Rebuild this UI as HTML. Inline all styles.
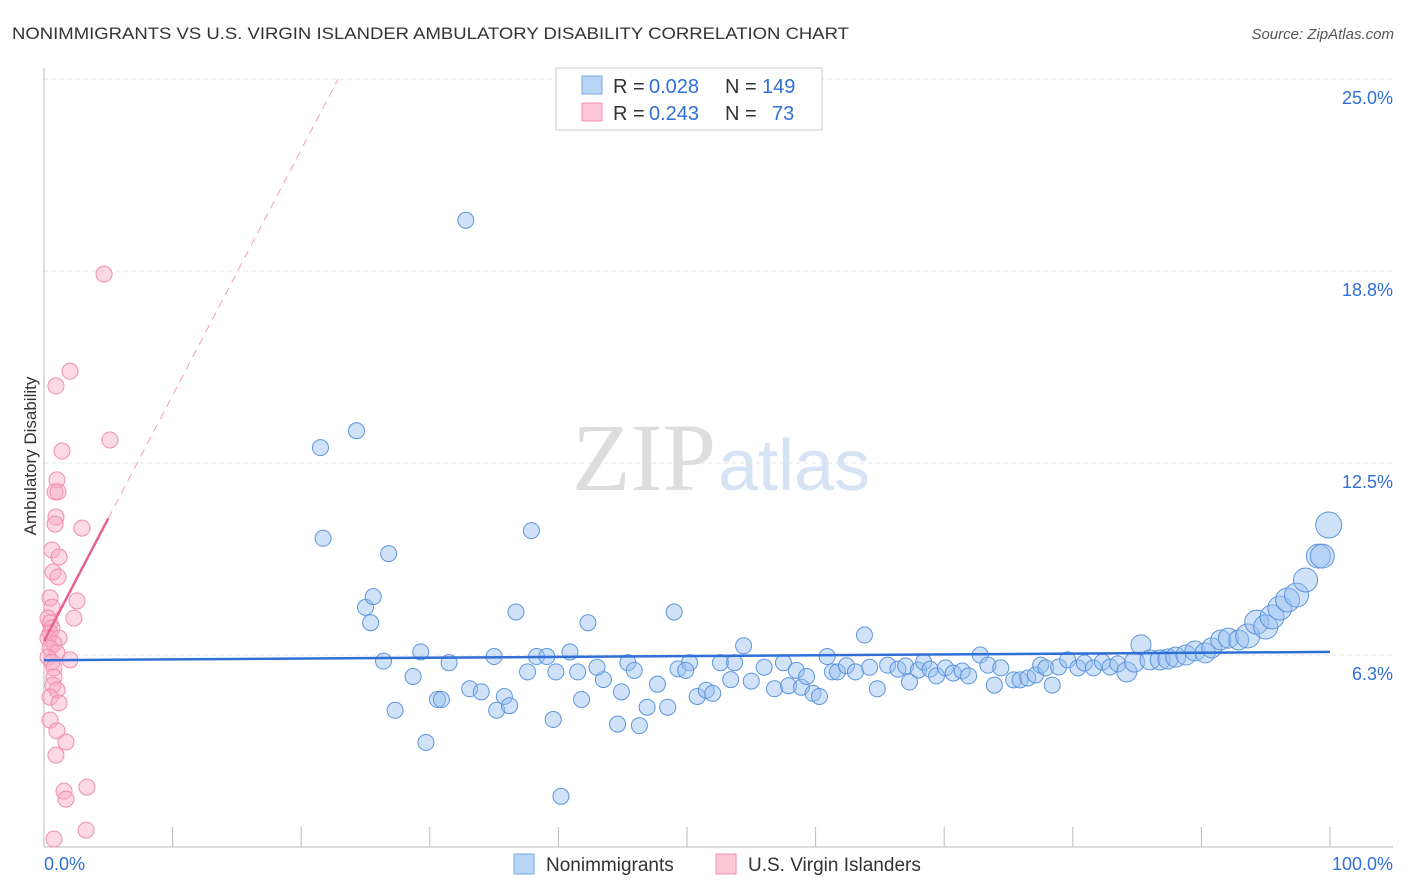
<!DOCTYPE html>
<html><head><meta charset="utf-8"><style>
body{margin:0;background:#fff;font-family:"Liberation Sans",sans-serif;}
svg{display:block}
</style></head><body>
<svg id="chart" width="1406" height="892">
<text x="12" y="39" font-size="17" fill="#333" textLength="837" lengthAdjust="spacingAndGlyphs">NONIMMIGRANTS VS U.S. VIRGIN ISLANDER AMBULATORY DISABILITY CORRELATION CHART</text>
<text x="1394" y="39" font-size="15" fill="#555" font-style="italic" text-anchor="end">Source: ZipAtlas.com</text>
<text x="36" y="456" font-size="17" fill="#333" transform="rotate(-90 36 456)" text-anchor="middle">Ambulatory Disability</text>
<text x="716" y="490" font-size="96" fill="#ddd" font-family="Liberation Serif" text-anchor="end">ZIP</text>
<text x="718" y="490" font-size="72" fill="#d5e3f5" text-anchor="start">atlas</text>
<g id="grid"></g><g id="axes"></g><g id="pink"></g><g id="blue"></g><g id="lines"></g>
<g>
<rect x="556" y="68" width="266" height="62" fill="#fff" stroke="#ccc"/>
<rect x="582" y="76" width="20" height="18" fill="#b8d4f5" stroke="#7aa7e0"/>
<rect x="582" y="103" width="20" height="18" fill="#fcc8d8" stroke="#f08db0"/>
<text y="93" font-size="20" fill="#333"><tspan x="613">R =</tspan><tspan x="649" fill="#2f6fd6">0.028</tspan><tspan x="725">N =</tspan><tspan x="762" fill="#2f6fd6">149</tspan></text>
<text y="120" font-size="20" fill="#333"><tspan x="613">R =</tspan><tspan x="649" fill="#2f6fd6">0.243</tspan><tspan x="725">N =</tspan><tspan x="772" fill="#2f6fd6">73</tspan></text>
</g>
<g>
<rect x="514" y="854" width="20" height="20" fill="#b8d4f5" stroke="#7aa7e0"/>
<text x="546" y="871" font-size="19" fill="#333">Nonimmigrants</text>
<rect x="716" y="854" width="20" height="20" fill="#fcc8d8" stroke="#f08db0"/>
<text x="748" y="871" font-size="19" fill="#333">U.S. Virgin Islanders</text>
</g>
</svg>
<script>
const yTicks=[25.0,18.8,12.5,6.3];
const yTickVals=[25,18.75,12.5,6.25];
const blueX=[32.8,21.5,24.3,21.7,37.9,26.8,25.0,25.6,25.4,36.7,42.3,49.0,26.4,29.3,31.5,28.7,27.3,30.6,30.9,33.1,34.0,35.8,35.2,36.2,29.7,39.6,40.2,41.8,44.6,46.3,44.9,43.5,35.0,38.3,39.1,40.9,37.6,39.8,41.5,43.0,45.4,45.9,47.7,46.9,48.5,49.3,50.2,49.9,50.8,51.5,52.0,52.6,53.7,53.4,54.4,55.0,56.0,56.8,57.5,57.9,58.5,58.9,59.3,59.8,60.3,60.9,61.3,61.7,62.4,63.1,63.8,64.8,64.2,65.6,66.4,67.0,67.3,68.0,68.4,68.9,69.4,70.1,70.7,71.4,71.9,72.8,73.4,73.9,74.4,75.4,75.9,76.5,77.1,77.5,77.9,78.4,78.9,79.6,80.4,80.9,81.6,82.3,82.9,83.5,84.2,84.8,85.3,86.0,86.8,87.4,88.0,88.8,89.5,90.3,90.8,91.5,92.1,92.9,93.6,94.3,95.0,95.5,96.1,96.7,97.4,98.1,99.1,99.4,99.9];
const blueY=[20.4,13.0,13.55,10.05,10.3,9.55,7.8,8.15,7.3,7.65,7.3,7.65,6.05,6.35,6.0,5.55,4.45,4.8,4.8,5.15,5.05,4.9,4.45,4.6,3.4,4.15,1.65,4.8,4.0,3.95,5.05,5.45,6.2,6.2,6.2,6.35,5.7,5.7,5.7,5.85,6.0,5.75,5.3,4.55,4.55,5.8,6.0,5.75,4.9,5.1,5.0,6.0,6.0,5.45,6.55,5.4,5.85,5.15,6.0,5.25,5.75,5.2,5.55,5.0,4.9,6.2,5.7,5.7,5.9,5.7,6.9,5.15,5.85,5.92,5.79,5.89,5.37,5.76,6.02,5.79,5.57,5.83,5.66,5.73,5.57,6.25,5.92,5.27,5.83,5.44,5.44,5.50,5.60,5.92,5.83,5.27,5.86,6.09,5.83,5.99,5.83,6.02,5.86,5.96,5.70,6.02,6.58,6.09,6.09,6.12,6.18,6.25,6.38,6.32,6.48,6.74,6.80,6.74,6.87,7.32,7.16,7.49,7.78,8.04,8.20,8.69,9.47,9.47,10.48];
const pinkX=[4.67,2.02,0.93,5.13,1.40,1.01,0.86,1.09,0.93,2.95,0.86,0.62,1.17,0.70,1.09,2.57,0.47,0.62,2.33,0.31,0.47,0.62,0.47,0.31,1.17,0.78,0.47,1.01,0.31,2.02,0.62,0.78,0.78,0.70,1.01,0.47,1.17,0.47,1.01,1.71,0.93,1.56,1.71,3.34,3.27,0.78];
const pinkY=[18.65,15.49,15.01,13.25,12.89,11.95,11.56,11.56,10.74,10.38,10.51,9.67,9.44,8.95,8.79,8.01,8.11,7.81,7.45,7.45,7.29,7.13,6.97,6.80,6.80,6.61,6.48,6.32,6.18,6.09,6.02,5.83,5.53,5.27,5.11,4.88,4.69,4.13,3.78,3.42,2.99,1.82,1.56,1.95,0.55,0.26];
const blueTrend=[6.08,6.35];
const pinkTrend=[6.7,10.7];
const NS="http://www.w3.org/2000/svg";
const X=v=>44+v*12.86, Y=v=>847-v*30.72;
function mk(t,a,p){const e=document.createElementNS(NS,t);for(const k in a)e.setAttribute(k,a[k]);document.getElementById(p).appendChild(e);return e;}
yTickVals.forEach((v,i)=>{
 const g=mk('line',{x1:44,x2:1393,y1:Y(v),y2:Y(v),stroke:'#e3e3e3','stroke-dasharray':'4,4'},'grid');
 
 
 const t=mk('text',{x:1393,y:Y(v)+25,'font-size':18,fill:'#2f6fd6','text-anchor':'end'},'axes');
 t.textContent=yTicks[i].toFixed(1)+'%';
 
 
});
const ax=mk('line',{x1:44,x2:44,y1:68,y2:847,stroke:'#bbb'},'axes');


const bx=mk('line',{x1:44,x2:1393,y1:847,y2:847,stroke:'#bbb'},'axes');


for(let i=0;i<=10;i++){const l=mk('line',{x1:X(i*10),x2:X(i*10),y1:827,y2:847,stroke:'#bbb'},'axes');
 
 }
[['0.0%',44,'start'],['100.0%',1393,'end']].forEach(a=>{const t=mk('text',{x:a[1],y:870,'font-size':18,fill:'#2f6fd6','text-anchor':a[2]},'axes');t.textContent=a[0];
 
 });
pinkX.forEach((x,i)=>{const c=mk('circle',{cx:X(x),cy:Y(pinkY[i]),r:8,fill:'rgba(248,170,195,0.45)',stroke:'#f08db0','stroke-width':1},'pink');
 
 });
blueX.forEach((x,i)=>{const r=x<84?8:(x<93?10:(x<99.5?12:13));
 const c=mk('circle',{cx:X(x),cy:Y(blueY[i]),r:r,fill:'rgba(150,190,240,0.45)',stroke:'#5d95dd','stroke-width':1},'blue');
 
 });
const bl=mk('line',{x1:X(0),x2:X(100),y1:Y(blueTrend[0]),y2:Y(blueTrend[1]),stroke:'#2f6fd6','stroke-width':2.5},'lines');


const slope=(pinkTrend[1]-pinkTrend[0])/5;
const pl=mk('line',{x1:X(0),x2:X(5),y1:Y(pinkTrend[0]),y2:Y(pinkTrend[1]),stroke:'#e8608e','stroke-width':2.5},'lines');


const xe=(25-pinkTrend[0])/slope;
const pd=mk('line',{x1:X(5),x2:X(xe),y1:Y(pinkTrend[1]),y2:Y(25),stroke:'#f0a0bb','stroke-width':1,'stroke-dasharray':'8,6'},'lines');


</script>
</body></html>
